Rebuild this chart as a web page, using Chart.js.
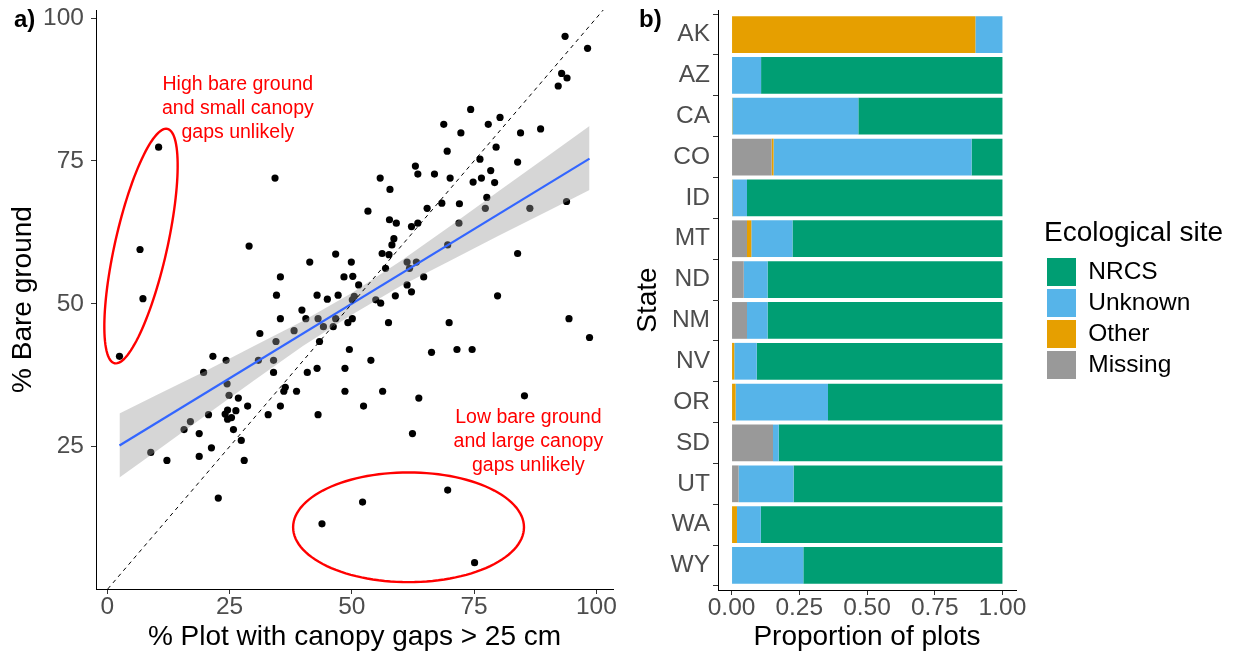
<!DOCTYPE html>
<html>
<head>
<meta charset="utf-8">
<script src="https://cdn.jsdelivr.net/npm/chart.js@4.4.1/dist/chart.umd.min.js"></script>
<style>
    body { margin: 0; background: #fff; }
    canvas { position: absolute; top: 0; }
</style>
</head>
<body>
<canvas id="scatter" width="625" height="657" style="left:0"></canvas>
<canvas id="bars" width="614" height="657" style="left:625px"></canvas>
<script>
// PANEL A DATA
const gapX = [10.5, 6.7, 7.3, 2.5, 34.3, 29.0, 41.4, 46.7, 49.9, 35.4, 48.4, 50.2, 34.6, 42.9, 45.0, 47.2,
    93.6, 98.2, 92.9, 94.0, 92.2, 74.3, 68.8, 80.3, 77.9, 72.3, 84.5, 88.6, 69.5, 79.5, 76.2, 83.9,
    63.0, 63.5, 66.9, 70.1, 78.4, 76.5, 74.8, 79.2, 55.8, 57.8, 77.6, 93.9, 53.3, 68.4, 72.0, 65.4,
    77.3, 86.4, 57.7, 59.1, 63.5, 62.2, 71.9, 58.6, 58.2, 56.2, 57.6, 69.6, 83.9, 61.3, 63.2, 56.9,
    61.8, 64.7, 51.4, 61.3, 62.2, 58.9, 79.8, 50.5, 50.1, 54.9, 55.9, 35.4, 39.8, 40.6, 43.1, 44.2,
    46.2, 46.7, 49.2, 50.1, 31.2, 38.2, 34.5, 43.4, 49.5, 21.6, 24.3, 30.9, 34.0, 19.7, 34.0, 40.9,
    42.9, 48.6, 24.5, 36.4, 38.7, 48.6, 24.9, 26.8, 28.7, 35.4, 20.7, 24.1, 24.6, 25.4, 26.3, 24.6,
    32.9, 43.1, 17.0, 15.7, 25.8, 18.8, 27.4, 21.3, 8.9, 18.8, 12.2, 28.0, 22.7, 43.9, 53.9, 57.5,
    69.9, 94.4, 98.6, 66.3, 71.5, 74.6, 56.3, 52.4, 63.7, 85.3, 62.4, 52.2, 69.6, 75.1, 36.1];
const bareY = [77.4, 59.5, 50.9, 40.8, 72.0, 60.1, 57.3, 58.7, 57.3, 54.7, 54.7, 54.8, 51.5, 51.5, 50.8, 51.5,
    96.8, 94.7, 90.3, 89.5, 88.1, 84.0, 81.4, 82.6, 81.4, 79.9, 79.9, 80.6, 76.7, 77.4, 75.3, 74.8,
    74.1, 72.7, 72.7, 72.0, 73.3, 72.0, 71.3, 71.2, 72.0, 70.0, 68.6, 67.9, 66.2, 67.6, 67.5, 66.7,
    66.7, 66.7, 64.7, 64.1, 64.1, 63.5, 64.1, 61.4, 60.3, 58.8, 58.6, 60.3, 58.8, 57.3, 57.3, 56.2,
    56.2, 54.7, 53.3, 53.3, 52.1, 51.4, 51.4, 51.3, 50.7, 50.7, 50.1, 47.4, 48.9, 47.4, 47.4, 46.0,
    46.0, 47.4, 46.7, 47.4, 44.8, 45.3, 43.4, 43.4, 42.0, 40.8, 40.1, 40.1, 40.1, 38.0, 38.0, 38.0,
    38.7, 38.7, 36.0, 35.4, 34.7, 34.7, 34.0, 33.5, 32.1, 32.1, 30.6, 30.7, 31.4, 30.1, 31.3, 29.8,
    30.6, 30.6, 29.4, 28.0, 28.0, 27.3, 26.1, 24.8, 24.0, 23.3, 22.6, 22.6, 16.0, 11.5, 40.1, 46.7,
    46.7, 47.4, 44.1, 41.5, 42.0, 42.0, 34.7, 32.1, 33.5, 33.9, 27.3, 15.3, 17.4, 4.7, 34.7];

// fitted line and its confidence band
const fitX = [2.5, 98.6];
const fitY = [25.2, 75.4];
const bandX = [2.5, 10, 20, 30, 40, 50, 60, 70, 80, 90, 98.6];
const bandLow = [19.6, 24.2, 30.4, 36.6, 42.6, 48.1, 53.1, 57.5, 61.9, 66.2, 69.9];
const bandHigh = [30.8, 34.0, 38.2, 42.6, 47.0, 51.9, 57.5, 63.5, 69.7, 75.8, 81.1];

const xTicks = [0, 25, 50, 75, 100];
const yTicks = [25, 50, 75, 100];

// PANEL B DATA
const states = ["AK", "AZ", "CA", "CO", "ID", "MT", "ND", "NM", "NV", "OR", "SD", "UT", "WA", "WY"];
const missing = [0, 0, 0, 0.148, 0, 0.057, 0.045, 0.057, 0, 0, 0.153, 0.026, 0, 0];
const other = [0.90, 0, 0.003, 0.007, 0.003, 0.016, 0, 0, 0.01, 0.015, 0, 0, 0.02, 0];
const unknown = [0.10, 0.109, 0.465, 0.731, 0.054, 0.152, 0.088, 0.076, 0.083, 0.341, 0.021, 0.203, 0.088, 0.265];
const nrcs = [0, 0.891, 0.532, 0.114, 0.943, 0.775, 0.867, 0.867, 0.907, 0.644, 0.826, 0.771, 0.892, 0.735];
const propTicks = [0, 0.25, 0.5, 0.75, 1];

Chart.defaults.font.family = '"Liberation Sans", Arial, sans-serif';
Chart.defaults.animation = false;

const tickGrey = "#4D4D4D";

// ellipses in data units: centre, half axis a, half axis b
const ellipses = [
    { c: [6.9, 60.1], a: [5.4, 20.5], b: [5.2, -1.0] },
    { c: [61.6, 10.9], a: [23.6, 0], b: [0, 9.6] }
];
const notes = [
    { x: 26.7, y: 84.2, lines: ["High bare ground", "and small canopy", "gaps unlikely"] },
    { x: 86.1, y: 25.8, lines: ["Low bare ground", "and large canopy", "gaps unlikely"] }
];

const notesPlugin = {
    id: "notes",
    afterDatasetsDraw(chart) {
        const { ctx, scales: { x, y } } = chart;
        ctx.save();
        ctx.strokeStyle = "#FF0000";
        ctx.lineWidth = 2.4;
        ellipses.forEach(e => {
            ctx.beginPath();
            for (let i = 0; i <= 120; i++) {
                const t = i / 120 * Math.PI * 2;
                const dx = e.c[0] + e.a[0] * Math.cos(t) + e.b[0] * Math.sin(t);
                const dy = e.c[1] + e.a[1] * Math.cos(t) + e.b[1] * Math.sin(t);
                const px = x.getPixelForValue(dx);
                const py = y.getPixelForValue(dy);
                if (i === 0) ctx.moveTo(px, py); else ctx.lineTo(px, py);
            }
            ctx.closePath();
            ctx.stroke();
        });
        ctx.fillStyle = "#FF0000";
        ctx.font = '19.5px "Liberation Sans", Arial, sans-serif';
        ctx.textAlign = "center";
        ctx.textBaseline = "middle";
        notes.forEach(n => {
            const px = x.getPixelForValue(n.x);
            const py = y.getPixelForValue(n.y);
            n.lines.forEach((l, i) => ctx.fillText(l, px, py + (i - 1) * 24));
        });
        ctx.restore();
    }
};

const tagPlugin = (text) => ({
    id: "tag",
    afterDraw(chart) {
        const ctx = chart.ctx;
        ctx.save();
        ctx.fillStyle = "#000";
        ctx.font = 'bold 24px "Liberation Sans", Arial, sans-serif';
        ctx.textBaseline = "middle";
        ctx.fillText(text, 14, 20);
        ctx.restore();
    }
});

// keep the legend box a fixed width so the title is not clipped
const legendWidthPlugin = {
    id: "legendWidth",
    beforeLayout(chart) {
        const lg = chart.legend;
        if (lg && !lg._fixedFit) {
            const fit = lg.fit;
            lg.fit = function () { fit.call(this); this.width = 195; };
            lg._fixedFit = true;
        }
    }
};

const axisStyle = {
    grid: { drawOnChartArea: false, drawTicks: true, tickLength: 5, tickColor: "#333", tickWidth: 1 },
    border: { display: true, color: "#000", width: 1 }
};

// no extra room for half tick labels, the panel edges are fixed
const noPad = (s) => { s.paddingTop = 0; s.paddingBottom = 0; s.paddingLeft = 0; s.paddingRight = 0; };

// PANEL A
const pts = gapX.map((x, i) => ({ x, y: bareY[i] }));
const yMin = 0.1, yMax = 101.4;

new Chart(document.getElementById("scatter"), {
    type: "scatter",
    data: {
        datasets: [
            {
                type: "line", label: "1:1",
                data: [{ x: yMin, y: yMin }, { x: yMax, y: yMax }],
                borderColor: "#000", borderWidth: 1, borderDash: [4, 4],
                pointRadius: 0, order: 0
            },
            {
                type: "line", label: "fit",
                data: fitX.map((x, i) => ({ x, y: fitY[i] })),
                borderColor: "#3366FF", borderWidth: 2.2, pointRadius: 0, order: 1
            },
            {
                type: "line", label: "upper",
                data: bandX.map((x, i) => ({ x, y: bandHigh[i] })),
                borderColor: "rgba(0,0,0,0)", pointRadius: 0,
                fill: 3, backgroundColor: "rgba(153,153,153,0.4)", order: 2
            },
            {
                type: "line", label: "lower",
                data: bandX.map((x, i) => ({ x, y: bandLow[i] })),
                borderColor: "rgba(0,0,0,0)", pointRadius: 0, fill: false, order: 3
            },
            {
                label: "plots", data: pts,
                backgroundColor: "#000", borderWidth: 0, pointRadius: 3.6, order: 4
            }
        ]
    },
    options: {
        responsive: false,
        devicePixelRatio: 1,
        events: [],
        layout: { padding: { top: 10, right: 12, bottom: 0, left: 0 } },
        plugins: { legend: { display: false }, tooltip: { enabled: false } },
        scales: {
            x: {
                type: "linear", min: -2.3, max: 103.4,
                ...axisStyle,
                afterBuildTicks: s => { s.ticks = xTicks.map(v => ({ value: v })); },
                afterFit: s => { s.height = 68; noPad(s); },
                ticks: { color: tickGrey, font: { size: 24.5, lineHeight: 1 }, padding: 1, maxRotation: 0, autoSkip: false },
                title: { display: true, text: "% Plot with canopy gaps > 25 cm", color: "#000", font: { size: 28 }, padding: { bottom: 3 } }
            },
            y: {
                type: "linear", min: yMin, max: yMax,
                ...axisStyle,
                afterBuildTicks: s => { s.ticks = yTicks.map(v => ({ value: v })); },
                afterFit: s => { s.width = 96; noPad(s); },
                ticks: { color: tickGrey, font: { size: 24.5, lineHeight: 1 }, padding: 7, autoSkip: false },
                title: { display: true, text: "% Bare ground", color: "#000", font: { size: 28 }, padding: { top: 6 } }
            }
        }
    },
    plugins: [notesPlugin, tagPlugin("a)")]
});

// PANEL B
new Chart(document.getElementById("bars"), {
    type: "bar",
    data: {
        labels: states,
        datasets: [
            { label: "Missing", data: missing, backgroundColor: "#999999", borderWidth: 0 },
            { label: "Other", data: other, backgroundColor: "#E69F00", borderWidth: 0 },
            { label: "Unknown", data: unknown, backgroundColor: "#56B4E9", borderWidth: 0 },
            { label: "NRCS", data: nrcs, backgroundColor: "#009E73", borderWidth: 0 }
        ]
    },
    options: {
        indexAxis: "y",
        responsive: false,
        devicePixelRatio: 1,
        events: [],
        barPercentage: 0.9,
        categoryPercentage: 1,
        layout: { padding: { top: 10, right: 0, bottom: 0, left: 0 } },
        plugins: {
            tooltip: { enabled: false },
            legend: {
                display: true, position: "right", fullSize: false, reverse: true, align: "center",
                title: { display: true, text: "Ecological site", color: "#000", position: "start", font: { size: 28 }, padding: { top: 1, bottom: 2.4 } },
                labels: { boxWidth: 29, boxHeight: 28, padding: 3, color: "#000", font: { size: 24.5 } }
            }
        },
        scales: {
            x: {
                type: "linear", stacked: true, min: -0.05, max: 1.05,
                ...axisStyle,
                afterBuildTicks: s => { s.ticks = propTicks.map(v => ({ value: v })); },
                afterFit: s => { s.height = 67; noPad(s); },
                ticks: { color: tickGrey, font: { size: 24.5, lineHeight: 1 }, padding: 1, maxRotation: 0, autoSkip: false,
                    callback: v => Number(v).toFixed(2) },
                title: { display: true, text: "Proportion of plots", color: "#000", font: { size: 28 }, padding: { bottom: 3 } }
            },
            y: {
                type: "category", stacked: true,
                ...axisStyle,
                // ggplot style discrete expansion of 0.6 on each side
                afterBuildTicks: s => { s._startValue = -0.6; s._valueRange = states.length - 1 + 1.2; },
                afterFit: s => { s.width = 93; noPad(s); },
                ticks: { color: tickGrey, font: { size: 24.5, lineHeight: 1 }, padding: 3, autoSkip: false },
                title: { display: true, text: "State", color: "#000", font: { size: 28 }, padding: { top: 6 } }
            },
            yPad: {
                type: "linear", position: "right", display: true,
                grid: { display: false }, border: { display: false }, ticks: { display: false },
                afterFit: s => { s.width = 28; noPad(s); }
            }
        }
    },
    plugins: [legendWidthPlugin, tagPlugin("b)")]
});
</script>
</body>
</html>
